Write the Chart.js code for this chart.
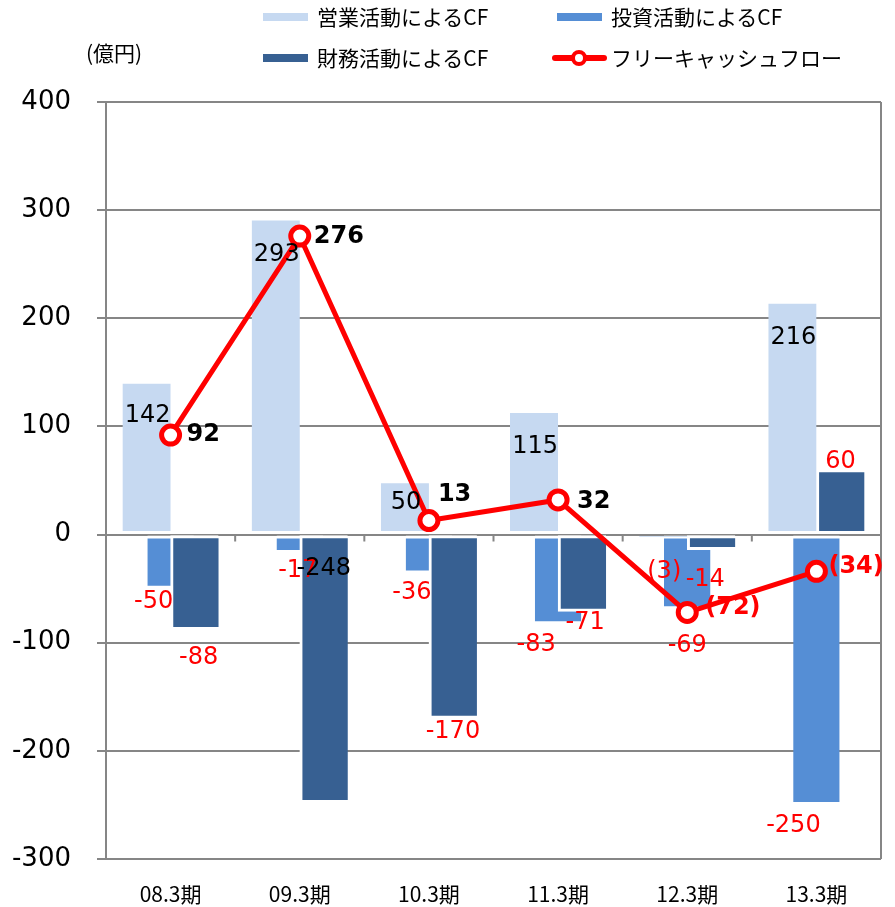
<!DOCTYPE html>
<html>
<head>
<meta charset="utf-8">
<script src="https://cdn.jsdelivr.net/npm/chart.js@4.4.1/dist/chart.umd.min.js"></script>
<style>
  html, body { margin: 0; padding: 0; background: #fff; }
  #wrap { position: relative; width: 895px; height: 907px; }
  #cf { position: absolute; left: 0; top: 0; }
  .lg { position: absolute; font-family: "Noto Sans CJK JP", sans-serif; font-size: 21px; color: #000; line-height: 22px; white-space: nowrap; }
  .sw { position: absolute; }
</style>
</head>
<body>
<div id="wrap">
  <canvas id="cf" width="895" height="907"></canvas>
  <div id="legend"></div>
  <div class="lg" style="left:86px; top:41px;">(億円)</div>
</div>
<script>
// data
const periods = ["08.3期", "09.3期", "10.3期", "11.3期", "12.3期", "13.3期"];
const operatingCF = [142, 293, 50, 115, -3, 216];
const investingCF = [-50, -17, -36, -83, -69, -250];
const financingCF = [-88, -248, -170, -71, -14, 60];
const freeCF = [92, 276, 13, 32, -72, -34];

const LIGHT = "#C6D9F1", MID = "#558ED5", DARK = "#376092", RED = "#FF0000";

// hand placed label offsets (from the end of each bar / point), like the source
const opNudge = [[1, 35], [1, 37], [1, 22], [1, 37], [1, 34], [1, 37]];
const invNudge = [[-17, 13], [-2, 18], [-17, 19], [-22, 20], [0, 37], [-23, 21]];
const finNudge = [[4, 28], [0, -234], [0, 13], [3, 11], [-6, 30], [0, -8]];
const fcfNudge = [[16, 0], [14, 1], [9, -26], [19, 2], [18, -5], [12, -5]];

const paren = v => (v < 0 ? "(" + (-v) + ")" : String(v));

const valueLabels = {
  id: "valueLabels",
  afterDatasetsDraw(chart) {
    const ctx = chart.ctx;
    ctx.save();
    ctx.textBaseline = "middle";
    [1, 2, 0, 3].forEach(di => {
      const ds = chart.data.datasets[di];
      const meta = chart.getDatasetMeta(di);
      meta.data.forEach((el, i) => {
        const v = ds.data[i];
        const [dx, dy] = ds.nudge[i];
        ctx.font = ds.labelFont;
        ctx.textAlign = ds.labelAlign;
        ctx.fillStyle = ds.labelColor(v, i);
        ctx.fillText(ds.labelText(v), el.x + dx, el.y + dy);
      });
    });
    ctx.restore();
  }
};

const frame = {
  id: "frame",
  beforeDatasetsDraw(chart) {
    const { ctx, chartArea, scales } = chart;
    const x = scales.x, y = scales.y;
    ctx.save();
    ctx.strokeStyle = "#868686";
    ctx.lineWidth = 2;
    ctx.beginPath();
    ctx.moveTo(chartArea.right, chartArea.top);
    ctx.lineTo(chartArea.right, chartArea.bottom);
    const y0 = y.getPixelForValue(0);
    for (let i = 1; i < x.ticks.length; i++) {
      const bx = (x.getPixelForTick(i - 1) + x.getPixelForTick(i)) / 2;
      ctx.moveTo(bx, y0);
      ctx.lineTo(bx, y0 + 7);
    }
    ctx.stroke();
    ctx.restore();
  }
};

const chart = new Chart(document.getElementById("cf"), {
  type: "bar",
  data: {
    labels: periods,
    datasets: [
      {
        label: "営業活動によるCF",
        data: operatingCF,
        backgroundColor: LIGHT,
        // the tiny negative bar in 12.3 shows nothing in the source
        borderColor: c => (c.raw < 0 ? "rgba(0,0,0,0)" : "#fff"),
        borderWidth: { top: 3, bottom: 3, left: 0, right: 0 },
        borderSkipped: false,
        barThickness: 48,
        stack: "op",
        order: 1,
        nudge: opNudge,
        labelFont: '24px "DejaVu Sans"',
        labelAlign: "center",
        labelColor: v => (v < 0 ? RED : "#000"),
        labelText: paren
      },
      {
        label: "投資活動によるCF",
        data: investingCF,
        backgroundColor: MID,
        borderColor: "#fff",
        borderWidth: { top: 3, bottom: 3, left: 0, right: 0 },
        borderSkipped: false,
        grouped: false,
        categoryPercentage: 0.36,
        barPercentage: 1,
        order: 3,
        nudge: invNudge,
        labelFont: '24px "DejaVu Sans"',
        labelAlign: "center",
        labelColor: () => RED,
        labelText: v => String(v)
      },
      {
        label: "財務活動によるCF",
        data: financingCF,
        backgroundColor: DARK,
        borderColor: "#fff",
        borderWidth: { top: 3, bottom: 3, left: 3, right: 0 },
        borderSkipped: false,
        barThickness: 48,
        stack: "fin",
        order: 2,
        nudge: finNudge,
        labelFont: '24px "DejaVu Sans"',
        labelAlign: "center",
        labelColor: (v, i) => (i === 1 ? "#000" : RED),
        labelText: v => String(v)
      },
      {
        type: "line",
        label: "フリーキャッシュフロー",
        data: freeCF,
        borderColor: RED,
        borderWidth: 5,
        pointRadius: 9,
        pointBorderWidth: 5,
        pointBackgroundColor: "#fff",
        pointBorderColor: RED,
        tension: 0,
        order: 0,
        nudge: fcfNudge,
        labelFont: 'bold 24px "DejaVu Sans"',
        labelAlign: "left",
        labelColor: v => (v < 0 ? RED : "#000"),
        labelText: paren
      }
    ]
  },
  options: {
    responsive: false,
    animation: false,
    layout: { padding: { top: 102, right: 5, bottom: 0, left: 0 } },
    plugins: { legend: { display: false }, tooltip: { enabled: false } },
    scales: {
      x: {
        offset: true,
        grid: { display: false, drawTicks: false },
        border: { display: false },
        ticks: { color: "#000", font: { family: "Noto Sans CJK JP", size: 21 }, padding: 22, maxRotation: 0, autoSkip: false },
        afterFit(s) { s.height = 48; }
      },
      y: {
        min: -300,
        max: 400,
        ticks: { stepSize: 100, color: "#000", font: { family: "DejaVu Sans", size: 26 }, padding: 26 },
        grid: { color: "#868686", lineWidth: 2, tickLength: 9 },
        border: { color: "#868686", width: 2 },
        afterFit(s) { s.width = 106; }
      }
    }
  },
  plugins: [frame, valueLabels]
});

// legend, two columns like the source
const slots = [[263, 17], [557, 17], [263, 58], [557, 58]];
const legend = document.getElementById("legend");
chart.data.datasets.forEach((ds, i) => {
  const [lx, ly] = slots[i];
  if (ds.type === "line") {
    const line = document.createElement("div");
    line.className = "sw";
    line.style.cssText = `left:${lx - 5}px; top:${ly - 3}px; width:55px; height:6px; background:${ds.borderColor}; border-radius:3px;`;
    legend.appendChild(line);
    const dot = document.createElement("div");
    dot.className = "sw";
    dot.style.cssText = `left:${lx + 14}px; top:${ly - 8}px; width:8px; height:8px; background:#fff; border:4px solid ${ds.borderColor}; border-radius:50%;`;
    legend.appendChild(dot);
  } else {
    const box = document.createElement("div");
    box.className = "sw";
    box.style.cssText = `left:${lx}px; top:${ly - 4}px; width:45px; height:8px; background:${ds.backgroundColor};`;
    legend.appendChild(box);
  }
  const t = document.createElement("div");
  t.className = "lg";
  t.style.left = (lx + 54) + "px";
  t.style.top = (ly - 12) + "px";
  t.textContent = ds.label;
  legend.appendChild(t);
});
</script>
</body>
</html>
